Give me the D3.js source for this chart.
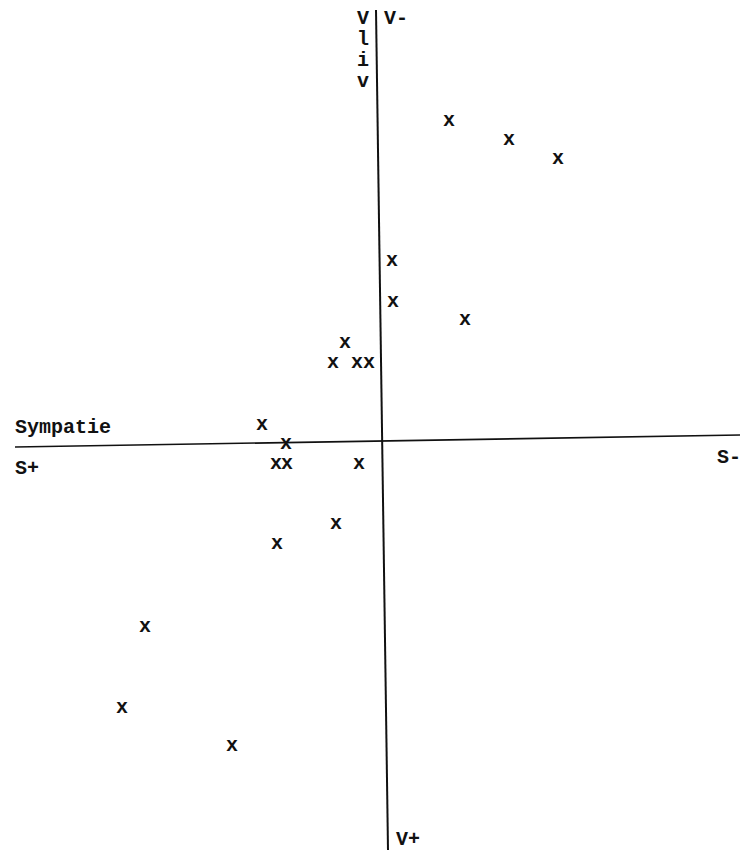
<!DOCTYPE html>
<html>
<head>
<meta charset="utf-8">
<script src="https://cdnjs.cloudflare.com/ajax/libs/d3/7.8.5/d3.min.js"></script>
<style>
  body { margin: 0; background: #fff; }
  svg text { font-family: "Liberation Mono", "DejaVu Sans Mono", monospace; font-weight: bold; fill: #111; }
</style>
</head>
<body>
<div id="chart"></div>
<script>
// S: sympatie (S+ to the left), V: vliv (V- at the top, V+ at the bottom)
var sympatie = [-3.35, -6.35, -8.8, -0.5, -0.55, -4.15, 1.85, 2.45, 1.25, 0.65,
  6.0, 4.8, 5.3, 4.75, 1.15, 2.3, 5.25, 11.85, 13.0, 7.5];
var vliv = [-16.0, -15.05, -14.1, -9.0, -6.95, -6.05, -4.9, -3.9, -3.9, -3.9,
  -0.8, 0.15, 1.15, 1.15, 1.15, 4.15, 5.15, 9.3, 13.35, 15.25];

// axis ends as drawn (the scanned axes lean a little)
var axisS = [[18.35, 0.35], [-17.9, -0.25]];
var axisV = [[0.3, -21.5], [-0.3, 20.5]];

var vlivLetters = ["V", "l", "i", "v"];

var width = 740, height = 850;

var svg = d3.select('#chart').append('svg')
  .attr("width", width)
  .attr("height", height)

var x = d3.scaleLinear()
  .domain([10, -10])
  .range([182, 582]);

var y = d3.scaleLinear()
  .domain([-10, 10])
  .range([240, 640]);

var axes = svg.append("g")
  .attr("stroke", "#111")
  .attr("fill", "none")

axes.append("line")
  .attr("x1", x(axisS[0][0])).attr("y1", y(axisS[0][1]))
  .attr("x2", x(axisS[1][0])).attr("y2", y(axisS[1][1]))
  .attr("stroke-width", 1.7)

axes.append("line")
  .attr("x1", x(axisV[0][0])).attr("y1", y(axisV[0][1]))
  .attr("x2", x(axisV[1][0])).attr("y2", y(axisV[1][1]))
  .attr("stroke-width", 2)

var points = sympatie.map(function (s, i) { return [s, vliv[i]]; });

svg.append("g")
  .selectAll("text")
  .data(points)
  .enter().append("text")
  .attr("x", function (d) { return x(d[0]); })
  .attr("y", function (d) { return y(d[1]); })
  .attr("dy", "0.28em")
  .attr("text-anchor", "middle")
  .style("font-size", "20px")
  .text("x")

var labels = svg.append("g")
  .style("font-size", "20px")

labels.append("text").attr("x", 15).attr("y", 433).text("Sympatie")
labels.append("text").attr("x", 15).attr("y", 474).text("S+")
labels.append("text").attr("x", 717).attr("y", 463).text("S-")
labels.append("text").attr("x", 384).attr("y", 24).text("V-")
labels.append("text").attr("x", 396).attr("y", 845).text("V+")

labels.selectAll(".vliv")
  .data(vlivLetters)
  .enter().append("text")
  .attr("class", "vliv")
  .attr("x", 363)
  .attr("y", function (d, i) { return 24 + i * 21; })
  .attr("text-anchor", "middle")
  .text(function (d) { return d; })
</script>
</body>
</html>
